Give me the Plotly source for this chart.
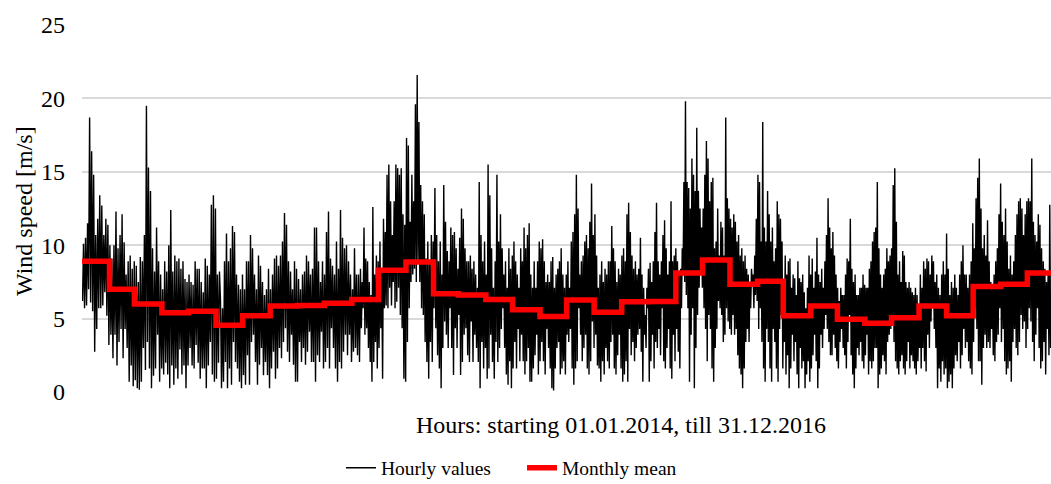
import plotly.graph_objects as go
import pandas as pd

# ---------------- data ----------------
START = "2014-01-01"
N_MONTHS = 36

MONTHLY_MEAN = [8.9, 7.0, 6.0, 5.4, 5.5, 4.55, 5.2, 5.85, 5.9, 6.05, 6.3, 8.3,
                8.85, 6.7, 6.6, 6.3, 5.6, 5.14, 6.27, 5.43, 6.15, 6.16, 8.1, 9.0,
                7.34, 7.55, 5.2, 5.86, 4.95, 4.68, 5.05, 5.86, 5.2, 7.18, 7.34, 8.1]

# hour index where each block of read-off hourly extremes starts / ends
SEGMENT_BOUNDS_H = [0, 3731, 7517, 11303, 15088, 18874, 22524, 26200]

# alternating local extremes of the hourly series, block by block [m/s]
HOURLY_SEG1 = [6.2, 10.1, 5.7, 10.5, 5.9, 11.5, 7.0, 18.7, 6.1, 16.4, 5.5, 14.8, 2.75, 10.7, 4.3, 11.8,
               5.7, 13.4, 5.7, 12.7, 5.9, 10.7, 6.8, 11.8, 5.2, 11.4, 3.2, 10.0, 3.9, 9.1, 2.3, 10.0,
               3.9, 12.3, 1.8, 9.8, 3.4, 10.7, 4.3, 12.1, 2.3, 10.2, 4.3, 8.0, 3.0, 8.9, 0.7, 9.3,
               1.8, 8.4, 0.4, 8.9, 0.8, 8.6, 0.25, 7.5, 0.15, 9.2, 0.7, 8.9, 3.0, 10.7, 1.5, 19.5,
               3.4, 15.3, 1.6, 13.7, 0.25, 9.8, 1.1, 8.2, 1.6, 11.2, 3.9, 8.9, 0.7, 8.0, 1.6, 7.0,
               1.2, 8.9, 2.0, 8.2, 1.2, 10.0, 0.25, 12.4, 1.8, 8.2, 0.5, 9.3, 1.6, 8.9, 0.9, 9.1,
               2.9, 8.4, 1.2, 8.9, 1.8, 7.7, 0.25, 7.5, 1.8, 8.0, 3.0, 7.5, 1.8, 7.3, 1.6, 8.9,
               3.2, 8.4, 2.0, 8.4, 0.9, 7.5, 1.6, 6.8, 1.6, 9.1, 0.25, 8.6, 1.8, 8.0, 3.4, 12.75,
               1.2, 13.4, 0.7, 12.5, 0.9, 8.0, 2.0, 8.2]

HOURLY_SEG2 = [6.2, 0.25, 5.7, 0.7, 8.9, 2.05, 10.8, 0.25, 8.9, 1.6, 9.8, 0.5, 11.3, 3.4, 10.9, 2.05,
               8.0, 1.6, 7.3, 0.7, 7.0, 0.25, 8.0, 1.15, 7.0, 0.5, 8.9, 2.5, 8.9, 0.5, 10.7, 3.4,
               9.8, 3.9, 8.0, 2.05, 7.0, 0.5, 9.3, 1.85, 8.6, 3.0, 7.5, 1.15, 6.6, 2.05, 7.0, 1.15,
               8.4, 0.25, 7.0, 1.6, 8.0, 2.75, 9.1, 0.9, 9.3, 1.6, 8.6, 3.0, 9.3, 2.3, 10.25, 3.4,
               12.2, 4.35, 11.4, 2.75, 8.9, 2.05, 8.2, 3.9, 7.0, 1.85, 8.9, 0.7, 8.4, 0.7, 7.7, 3.4,
               7.0, 2.05, 8.0, 3.0, 8.2, 1.85, 9.3, 2.75, 8.9, 4.1, 8.0, 2.05, 8.4, 2.05, 11.2, 0.7,
               11.2, 2.5, 8.9, 2.05, 7.5, 4.1, 8.9, 1.6, 8.0, 2.05, 10.9, 3.0, 12.3, 1.6, 9.1, 4.35,
               8.6, 3.0, 8.0, 1.6, 10.25, 0.7, 8.4, 2.05, 12.4, 1.6, 10.5, 2.75, 9.8, 3.9, 10.0, 2.5,
               8.9, 3.9, 8.0, 2.05, 7.0, 2.75, 9.8, 3.0, 8.0, 2.5, 8.0, 2.05]

HOURLY_SEG3 = [8.4, 4.35, 7.5, 5.7, 11.2, 3.9, 9.1, 4.35, 8.9, 3.0, 7.5, 2.05, 6.6, 0.7, 12.6, 2.05,
               8.0, 3.4, 9.3, 1.6, 8.9, 3.0, 10.25, 4.35, 8.4, 0.9, 11.8, 5.7, 10.9, 5.9, 14.8, 5.7,
               15.5, 7.1, 13.0, 5.9, 10.7, 7.5, 13.0, 5.7, 15.5, 6.15, 15.25, 7.1, 14.8, 5.25, 15.25, 4.35,
               12.1, 0.9, 11.4, 0.7, 17.3, 3.4, 16.8, 5.7, 11.6, 7.5, 14.8, 8.0, 13.0, 8.4, 19.6, 7.5,
               21.6, 8.9, 18.4, 7.5, 14.1, 5.7, 13.0, 5.25, 12.1, 3.4, 9.1, 2.05, 10.25, 0.9, 8.9, 3.4,
               10.7, 2.05, 10.25, 5.7, 13.9, 4.35, 10.7, 2.5, 8.9, 1.6, 10.25, 0.25, 8.0, 3.0, 14.1, 4.8,
               11.6, 3.9, 9.6, 3.0, 8.9, 5.7, 11.2, 3.0, 10.7, 1.15, 10.9, 4.35, 9.8, 3.0, 8.4, 5.25,
               10.5, 1.15, 12.5, 2.05, 11.8, 3.9, 9.8, 4.35, 8.9, 2.5, 8.9, 2.05, 9.3, 4.8, 8.4, 2.05,
               8.9, 3.9, 8.0, 3.0, 7.1, 2.05, 14.3, 0.25, 10.7, 3.4, 8.9, 1.6, 10.25, 3.0, 8.0, 0.9,
               15.5, 1.6, 13.4, 3.9, 9.8, 2.05, 7.1, 0.9, 8.9, 3.4, 14.8, 2.05, 10.25, 3.0]

HOURLY_SEG4 = [12.1, 4.3, 9.8, 5.7, 8.0, 3.0, 8.9, 1.2, 7.1, 0.5, 9.8, 2.1, 8.4, 0.25, 9.3, 1.6,
               10.25, 3.4, 8.9, 1.6, 8.0, 4.3, 7.1, 2.1, 9.8, 3.9, 8.9, 2.1, 11.2, 1.2, 9.8, 2.1,
               10.7, 3.0, 11.5, 0.7, 8.0, 0.7, 7.1, 1.6, 8.9, 2.5, 7.1, 3.9, 8.9, 1.2, 10.25, 2.1,
               9.8, 3.4, 10.4, 2.1, 8.9, 1.2, 7.5, 4.3, 8.0, 3.0, 7.5, 1.6, 8.9, 0.25, 9.2, 0.1,
               7.1, 1.6, 8.0, 3.0, 8.4, 3.4, 8.9, 1.2, 9.8, 1.6, 8.0, 2.1, 7.1, 1.2, 8.0, 3.9,
               8.9, 3.4, 7.1, 4.3, 10.25, 1.6, 10.9, 0.5, 12.1, 1.6, 14.8, 2.1, 12.5, 5.7, 8.0, 3.9,
               8.9, 2.1, 9.3, 3.0, 10.25, 3.9, 10.7, 1.6, 9.8, 1.2, 11.6, 2.1, 14.2, 4.8, 10.7, 3.0,
               12.1, 3.9, 9.3, 1.8, 7.1, 1.6, 8.0, 0.7, 8.9, 2.1, 7.5, 1.2, 8.4, 3.0, 8.0, 2.1,
               8.9, 1.6, 8.9, 3.4, 11.3, 3.9, 9.8, 1.6, 8.9, 1.2, 7.5, 2.5, 8.4, 3.9, 8.0, 1.6,
               9.3, 0.7, 9.8, 1.2, 8.9, 2.1, 12.1, 0.7, 12.9, 4.3, 10.9, 2.5, 9.3, 3.4, 8.4, 2.1,
               8.9, 3.0, 8.0, 3.9, 8.4, 4.3]

HOURLY_SEG5 = [10.5, 2.75, 8.0, 0.7, 7.1, 3.9, 5.25, 3.0, 7.1, 5.7, 8.4, 0.7, 8.8, 2.1, 7.5, 3.9,
               8.9, 1.6, 10.9, 3.4, 12.9, 3.0, 8.9, 4.3, 8.0, 2.5, 8.9, 5.7, 10.7, 2.1, 11.7, 1.6,
               9.8, 3.0, 8.0, 4.3, 8.9, 1.6, 13.0, 0.9, 8.9, 3.9, 9.3, 2.1, 9.8, 4.3, 8.9, 2.75,
               8.0, 1.6, 8.4, 5.7, 9.8, 8.0, 14.3, 7.5, 19.8, 6.6, 14.3, 5.7, 13.9, 0.7, 12.5, 3.9,
               15.9, 5.7, 14.8, 0.25, 13.7, 3.0, 18.0, 5.25, 13.7, 7.1, 12.5, 8.0, 11.2, 7.1, 12.5, 5.7,
               14.8, 4.3, 17.1, 2.1, 15.9, 5.25, 13.0, 4.3, 14.3, 1.6, 14.6, 0.7, 9.8, 3.0, 10.25, 4.3,
               12.5, 6.2, 9.3, 5.7, 11.6, 5.25, 11.2, 3.4, 9.3, 3.9, 18.7, 5.7, 13.2, 4.8, 12.5, 4.3,
               11.8, 3.9, 11.2, 5.25, 12.1, 3.9, 11.6, 4.3, 10.25, 2.5, 10.7, 1.6, 9.3, 1.2, 9.8, 0.25,
               8.9, 1.6, 9.3, 3.4, 8.4, 4.3, 8.0, 3.4, 7.5, 5.7, 8.4, 7.5, 8.0, 5.7, 9.3, 6.6,
               11.8, 6.2, 14.8, 4.3, 14.3, 5.7, 10.25, 3.4, 18.4, 1.6, 11.2, 0.7, 10.25, 4.3, 13.7, 3.4,
               12.1, 1.6, 10.25, 0.7, 11.2, 4.3, 8.9, 3.4, 9.8, 1.6, 13.0, 0.7, 12.1, 4.3]

HOURLY_SEG6 = [11.8, 5.25, 10.25, 1.6, 7.5, 3.4, 9.3, 1.2, 8.0, 2.5, 8.9, 0.25, 9.1, 1.6, 7.1, 3.9,
               8.0, 2.1, 7.75, 3.4, 6.6, 1.2, 8.9, 0.25, 7.75, 3.0, 7.5, 1.6, 8.0, 2.1, 6.8, 0.25,
               5.7, 1.2, 7.1, 2.1, 9.3, 0.7, 8.0, 1.6, 9.1, 2.5, 7.1, 3.9, 8.2, 2.1, 10.5, 0.25,
               8.0, 1.6, 7.5, 3.9, 8.4, 3.0, 7.1, 4.3, 8.9, 5.25, 10.7, 4.3, 13.2, 3.4, 11.2, 2.5,
               9.8, 2.5, 10.9, 3.9, 9.3, 3.0, 8.0, 2.1, 7.1, 1.6, 6.2, 3.4, 7.1, 4.3, 6.6, 3.0,
               6.6, 2.5, 8.0, 1.6, 9.1, 3.4, 8.9, 5.25, 11.8, 2.5, 8.4, 1.2, 7.5, 0.25, 8.0, 1.6,
               6.6, 3.0, 6.6, 2.5, 7.1, 3.4, 7.1, 2.1, 8.0, 1.6, 7.3, 2.5, 7.1, 3.9, 7.1, 1.2,
               8.4, 2.1, 8.9, 1.6, 10.25, 2.1, 10.9, 3.0, 11.2, 3.0, 14.3, 0.25, 9.8, 1.2, 8.0, 1.6,
               7.1, 2.5, 8.0, 2.1, 8.4, 1.2, 9.8, 3.4, 8.9, 3.9, 9.3, 4.3, 9.8, 5.25, 14.1, 3.4,
               15.25, 2.1, 11.6, 1.6, 8.0, 1.2, 8.9, 2.1, 7.5, 2.5, 9.6, 1.6, 9.3, 1.2, 7.5, 2.1,
               7.1, 3.4, 7.5, 1.6, 7.1, 2.5, 6.8, 2.1, 6.6, 1.6]

HOURLY_SEG7 = [7.1, 1.2, 6.6, 2.1, 5.7, 3.0, 8.0, 1.6, 7.1, 3.0, 8.9, 2.1, 8.4, 1.4, 9.1, 3.9,
               8.9, 3.0, 8.0, 4.8, 9.3, 5.7, 8.9, 4.3, 7.5, 3.0, 8.0, 0.25, 7.1, 1.6, 6.6, 0.7,
               8.0, 2.1, 8.9, 1.2, 8.0, 1.6, 10.8, 0.25, 8.4, 0.7, 6.6, 1.2, 7.5, 0.25, 7.1, 1.6,
               8.0, 2.5, 7.1, 2.1, 6.6, 3.4, 8.0, 1.6, 8.9, 2.5, 10.0, 4.3, 8.0, 3.0, 8.0, 3.4,
               7.1, 2.1, 8.0, 1.6, 8.9, 1.2, 11.5, 3.4, 9.8, 5.7, 13.2, 4.3, 14.6, 2.1, 15.9, 2.1,
               12.5, 0.5, 9.8, 3.0, 10.7, 3.9, 9.3, 3.0, 11.7, 3.4, 8.9, 3.0, 7.5, 4.3, 7.1, 2.5,
               8.0, 2.1, 8.9, 3.4, 9.8, 3.9, 12.1, 5.7, 14.2, 3.4, 11.6, 4.3, 10.7, 2.1, 12.5, 1.2,
               10.25, 1.6, 8.4, 2.1, 9.3, 0.7, 8.0, 3.4, 8.9, 4.3, 10.7, 3.0, 12.1, 2.5, 13.0, 3.4,
               13.2, 5.25, 12.5, 4.3, 10.7, 4.8, 12.1, 3.0, 13.0, 4.3, 13.2, 5.7, 13.0, 4.8, 15.9, 3.4,
               11.6, 2.1, 10.7, 3.9, 10.25, 5.7, 12.1, 3.0, 11.4, 1.6, 9.8, 2.1, 8.9, 3.4, 8.4, 1.2,
               7.5, 4.3, 8.0, 2.5, 12.75, 3.0]

HOURLY_SEGMENTS = [HOURLY_SEG1, HOURLY_SEG2, HOURLY_SEG3, HOURLY_SEG4,
                   HOURLY_SEG5, HOURLY_SEG6, HOURLY_SEG7]

X_TITLE = "Hours: starting 01.01.2014, till 31.12.2016"
Y_TITLE = "Wind speed [m/s]"
SERIES_NAMES = ["Hourly values", "Monthly mean"]
Y_TICKS = [0, 5, 10, 15, 20, 25]
X_VISIBLE_END_H = 26200

# ---------------- build series ----------------
hour_x, hour_y = [], []
for k, seg in enumerate(HOURLY_SEGMENTS):
    s, e = SEGMENT_BOUNDS_H[k], SEGMENT_BOUNDS_H[k + 1]
    n = len(seg)
    for i, v in enumerate(seg):
        hour_x.append(round(s + (i + 0.5) * (e - s) / n))
        hour_y.append(v)

t0 = pd.Timestamp(START)
month_starts = pd.date_range(START, periods=N_MONTHS + 1, freq="MS")
month_x = [int((d - t0) / pd.Timedelta(hours=1)) for d in month_starts]
month_y = MONTHLY_MEAN + [MONTHLY_MEAN[-1]]

FONT = "Liberation Serif, Times New Roman, serif"

fig = go.Figure()
fig.add_trace(go.Scatter(x=hour_x, y=hour_y, mode="lines", name=SERIES_NAMES[0],
                         line=dict(color="#000000", width=1.4)))
fig.add_trace(go.Scatter(x=month_x, y=month_y, mode="lines", name=SERIES_NAMES[1],
                         line=dict(color="#FF0000", width=5.5, shape="hv")))

fig.update_layout(
    width=1051, height=484,
    margin=dict(l=82, r=0, t=25, b=92, autoexpand=False),
    paper_bgcolor="white", plot_bgcolor="white",
    font=dict(family=FONT, color="#000000", size=22),
    showlegend=True,
    legend=dict(orientation="h", x=0.2673, xanchor="left", y=(392 - 468) / 367, yanchor="middle",
                font=dict(size=19.5, family=FONT), entrywidth=136, bgcolor="rgba(0,0,0,0)",
                traceorder="normal"),
    xaxis=dict(range=[0, X_VISIBLE_END_H], showgrid=False, zeroline=False,
               showticklabels=False, showline=False, ticks=""),
    yaxis=dict(range=[0, 25], tickvals=Y_TICKS, showgrid=True, gridcolor="#d9d9d9",
               gridwidth=1.5, zeroline=False, showline=False, ticks="",
               tickfont=dict(size=24, family=FONT), ticklabelstandoff=16),
    annotations=[
        dict(text=X_TITLE, xref="paper", yref="paper", x=(621 - 82) / 969, y=(392 - 425) / 367,
             xanchor="center", yanchor="middle", showarrow=False, font=dict(size=24, family=FONT)),
        dict(text=Y_TITLE, xref="paper", yref="paper", x=(24 - 82) / 969, y=(392 - 211) / 367,
             xanchor="center", yanchor="middle", textangle=-90, showarrow=False,
             font=dict(size=24, family=FONT)),
    ],
)

fig.write_html("out.html")
